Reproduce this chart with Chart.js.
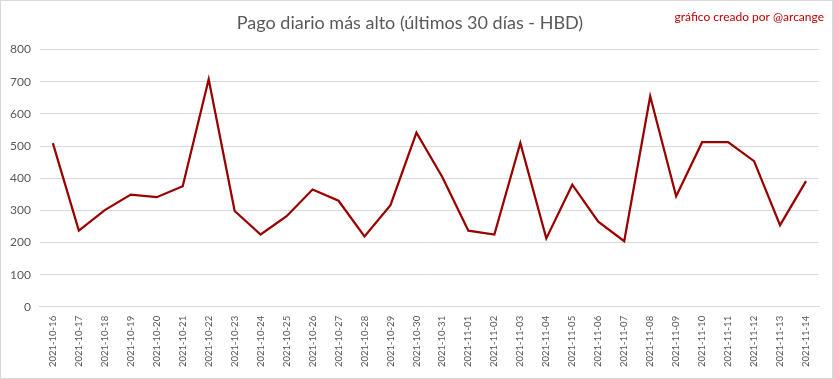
<!DOCTYPE html>
<html>
<head>
<meta charset="utf-8">
<script src="https://cdn.jsdelivr.net/npm/chart.js@4/dist/chart.umd.min.js"></script>
<style>
	html, body { margin: 0; padding: 0; background: #fff; }
	.box { width: 833px; height: 379px; box-sizing: border-box; border: 1px solid #d9d9d9; position: relative; }
	canvas { display: block; }
</style>
</head>
<body>
<div class="box"><canvas id="chart" width="831" height="377"></canvas></div>
<script>
const days = [
	"2021-10-16", "2021-10-17", "2021-10-18", "2021-10-19", "2021-10-20", "2021-10-21",
	"2021-10-22", "2021-10-23", "2021-10-24", "2021-10-25", "2021-10-26", "2021-10-27",
	"2021-10-28", "2021-10-29", "2021-10-30", "2021-10-31", "2021-11-01", "2021-11-02",
	"2021-11-03", "2021-11-04", "2021-11-05", "2021-11-06", "2021-11-07", "2021-11-08",
	"2021-11-09", "2021-11-10", "2021-11-11", "2021-11-12", "2021-11-13", "2021-11-14"
]
const topPayout = [
	509, 237, 301, 349, 341, 375,
	708, 298, 225, 282, 365, 330,
	219, 316, 542, 403, 237, 225,
	510, 213, 380, 265, 204, 655,
	344, 512, 512, 453, 254, 391
]
const yMin = 0
const yMax = 800
const yStep = 100

const titleText = "Pago diario más alto (últimos 30 días - HBD)"
const creditText = "gráfico creado por @arcange"
const fontFamily = "Lato, 'Open Sans', sans-serif"

// small credit line in the top right corner
const creditPlugin = {
	id: "credit",
	afterDraw(chart) {
		const ctx = chart.ctx
		ctx.save()
		ctx.font = "12px " + fontFamily
		ctx.fillStyle = "#c00000"
		ctx.textAlign = "right"
		ctx.textBaseline = "middle"
		ctx.fillText(creditText, chart.width - 8, 16)
		ctx.restore()
	}
}

const ctx = document.getElementById("chart").getContext("2d")

new Chart(ctx, {
	type: "line",
	data: {
		labels: days,
		datasets: [{
			label: "HBD",
			data: topPayout,
			borderColor: "#990000",
			backgroundColor: "#990000",
			borderWidth: 2.25,
			pointRadius: 0,
			tension: 0,
		}],
	},
	options: {
		responsive: false,
		animation: false,
		layout: {
			padding: { left: 0, right: 13, top: 0, bottom: 10 }
		},
		plugins: {
			legend: { display: false },
			tooltip: { enabled: false },
			title: {
				display: true,
				text: titleText,
				color: "#595959",
				font: { family: fontFamily, size: 18, weight: "normal" },
				padding: { top: 11, bottom: 16 },
			},
		},
		scales: {
			x: {
				offset: true,
				grid: { display: false },
				border: { color: "#d9d9d9" },
				ticks: {
					color: "#595959",
					font: { family: fontFamily, size: 9.5 },
					minRotation: 90,
					maxRotation: 90,
					autoSkip: false,
					padding: 1,
				},
			},
			y: {
				min: yMin,
				max: yMax,
				border: { display: false },
				grid: { color: "#d9d9d9", drawTicks: false },
				ticks: {
					stepSize: yStep,
					color: "#595959",
					font: { family: fontFamily, size: 12 },
					padding: 9,
				},
			},
		},
	},
	plugins: [creditPlugin],
});
</script>
</body>
</html>
